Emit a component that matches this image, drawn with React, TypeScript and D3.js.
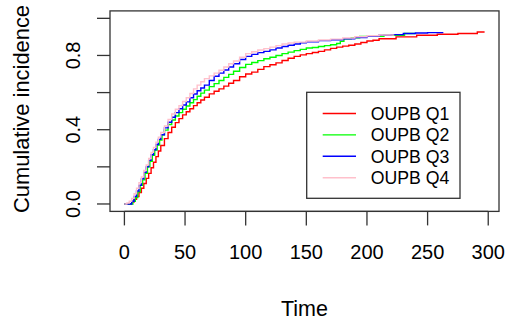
import React from "react";
import * as d3 from "d3";

const seriesNames = ["OUPB Q1", "OUPB Q2", "OUPB Q3", "OUPB Q4"];
const seriesColors = ["#FF0000", "#00FF00", "#0000FF", "#FFC0CB"];

const q1Time = [0, 4, 6, 8, 10, 12, 14, 16, 18, 20, 22, 24, 26, 28, 30, 33, 36, 39, 42, 45, 48, 51, 54, 57, 60, 63, 66, 70, 74, 78, 82, 86, 90, 95, 100, 105, 110, 115, 120, 125, 130, 135, 140, 145, 150, 155, 160, 165, 170, 175, 180, 185, 190, 195, 200, 205, 210, 224, 241, 258, 275, 291, 297];
const q1Value = [0, 0, 0.01, 0.025, 0.04, 0.062, 0.085, 0.11, 0.138, 0.165, 0.195, 0.225, 0.255, 0.285, 0.315, 0.352, 0.385, 0.413, 0.438, 0.46, 0.48, 0.497, 0.513, 0.53, 0.545, 0.56, 0.575, 0.593, 0.607, 0.62, 0.635, 0.65, 0.665, 0.685, 0.7, 0.71, 0.725, 0.74, 0.75, 0.76, 0.773, 0.785, 0.795, 0.803, 0.81, 0.816, 0.822, 0.83, 0.838, 0.845, 0.85, 0.855, 0.862, 0.87, 0.878, 0.882, 0.89, 0.9, 0.909, 0.914, 0.918, 0.926, 0.926];

const q2Time = [0, 5, 7, 9, 11, 13, 15, 17, 19, 21, 23, 25, 27, 29, 31, 33, 36, 39, 42, 45, 48, 51, 54, 57, 60, 63, 66, 70, 74, 78, 82, 86, 90, 95, 100, 105, 110, 115, 120, 125, 130, 135, 140, 145, 150, 155, 160, 165, 170, 175, 178, 181, 187, 194, 214, 231, 240];
const q2Value = [0, 0, 0.015, 0.035, 0.066, 0.1, 0.13, 0.165, 0.2, 0.23, 0.262, 0.29, 0.317, 0.345, 0.372, 0.398, 0.428, 0.452, 0.474, 0.492, 0.51, 0.528, 0.545, 0.562, 0.58, 0.597, 0.613, 0.632, 0.648, 0.665, 0.682, 0.698, 0.715, 0.735, 0.752, 0.762, 0.772, 0.782, 0.79, 0.8, 0.81, 0.818, 0.826, 0.833, 0.84, 0.843, 0.848, 0.853, 0.858, 0.864, 0.876, 0.89, 0.895, 0.903, 0.909, 0.918, 0.918];

const q3Time = [0, 4, 6, 8, 10, 12, 14, 16, 18, 20, 22, 24, 26, 28, 30, 33, 36, 39, 42, 45, 48, 51, 54, 57, 60, 63, 66, 70, 74, 78, 82, 86, 90, 95, 100, 105, 110, 115, 120, 125, 130, 135, 140, 145, 150, 160, 170, 180, 190, 200, 210, 220, 230, 240, 250, 263];
const q3Value = [0, 0, 0.015, 0.04, 0.07, 0.1, 0.135, 0.17, 0.2, 0.235, 0.265, 0.292, 0.32, 0.348, 0.373, 0.41, 0.44, 0.467, 0.492, 0.513, 0.533, 0.55, 0.572, 0.592, 0.61, 0.625, 0.64, 0.665, 0.688, 0.705, 0.722, 0.738, 0.755, 0.778, 0.795, 0.806, 0.815, 0.822, 0.83, 0.84, 0.848, 0.855, 0.862, 0.868, 0.873, 0.88, 0.885, 0.89, 0.896, 0.903, 0.909, 0.912, 0.918, 0.921, 0.923, 0.923];

const q4Time = [0, 2, 4, 6, 8, 10, 12, 14, 16, 18, 20, 22, 24, 26, 28, 30, 33, 36, 39, 42, 45, 48, 51, 54, 57, 60, 63, 66, 70, 74, 78, 82, 86, 90, 95, 100, 105, 110, 115, 120, 125, 130, 135, 140, 150, 160, 170, 180, 190, 200, 210, 222];
const q4Value = [0, 0.005, 0.015, 0.03, 0.055, 0.085, 0.115, 0.145, 0.18, 0.21, 0.245, 0.278, 0.305, 0.333, 0.36, 0.385, 0.42, 0.455, 0.485, 0.51, 0.53, 0.552, 0.572, 0.595, 0.62, 0.64, 0.658, 0.675, 0.69, 0.705, 0.72, 0.738, 0.755, 0.77, 0.79, 0.81, 0.82, 0.829, 0.837, 0.845, 0.853, 0.862, 0.867, 0.872, 0.878, 0.883, 0.888, 0.894, 0.901, 0.906, 0.91, 0.913];

const seriesTimes = [q1Time, q2Time, q3Time, q4Time];
const seriesValues = [q1Value, q2Value, q3Value, q4Value];

const xTicks = [0, 50, 100, 150, 200, 250, 300];
const yTicks = [0, 0.2, 0.4, 0.6, 0.8, 1.0];
const yTickLabels = ["0.0", "", "0.4", "", "0.8", ""];
const xTitle = "Time";
const yTitle = "Cumulative incidence";

const maxTime = 297;

export default function App() {
  const W = 506;
  const H = 323;
  const left = 110, right = 499, top = 10.9, bottom = 211.4;
  const x = d3.scaleLinear().domain([-0.04 * maxTime, 1.04 * maxTime]).range([left, right]);
  const y = d3.scaleLinear().domain([-0.04, 1.04]).range([bottom, top]);
  const font = "'Liberation Sans', Arial, Helvetica, sans-serif";

  const line = d3
    .line<[number, number]>()
    .x((d) => x(d[0]))
    .y((d) => y(d[1]))
    .curve(d3.curveStepAfter);

  const legendX0 = 306.7, legendY0 = 92.3, legendW = 153.3, legendH = 106;
  const legendRowY = (i: number) => 113.5 + i * 21.4;

  return (
    <div style={{ position: "fixed", left: 0, top: 0 }}>
      <svg width={W} height={H} style={{ display: "block", background: "#fff" }}>
        <rect x={0} y={0} width={W} height={H} fill="#fff" />
        {seriesTimes.map((ts, i) => (
          <path
            key={i}
            d={line(ts.map((t, j) => [t, seriesValues[i][j]] as [number, number])) || ""}
            fill="none"
            stroke={seriesColors[i]}
            strokeWidth={1.4}
          />
        ))}
        <rect x={left} y={top} width={right - left} height={bottom - top} fill="none" stroke="#333" strokeWidth={1.3} />
        {/* x axis */}
        <line x1={x(xTicks[0])} x2={x(xTicks[xTicks.length - 1])} y1={bottom} y2={bottom} stroke="#333" strokeWidth={1.3} />
        {xTicks.map((t) => (
          <g key={t}>
            <line x1={x(t)} x2={x(t)} y1={bottom} y2={bottom + 14} stroke="#333" strokeWidth={1.3} />
            <text x={x(t)} y={259} textAnchor="middle" fontFamily={font} fontSize={20} fill="#000">
              {t}
            </text>
          </g>
        ))}
        {/* y axis */}
        {yTicks.map((t, i) => (
          <g key={t}>
            <line x1={left} x2={left - 13} y1={y(t)} y2={y(t)} stroke="#333" strokeWidth={1.3} />
            {yTickLabels[i] && (
              <text
                transform={`translate(80,${y(t)}) rotate(-90)`}
                textAnchor="middle"
                fontFamily={font}
                fontSize={20}
                fill="#000"
              >
                {yTickLabels[i]}
              </text>
            )}
          </g>
        ))}
        <text x={(left + right) / 2} y={316} textAnchor="middle" fontFamily={font} fontSize={21.5} fill="#000">
          {xTitle}
        </text>
        <text
          transform={`translate(29,109) rotate(-90)`}
          textAnchor="middle"
          fontFamily={font}
          fontSize={21.9}
          fill="#000"
        >
          {yTitle}
        </text>
        {/* legend */}
        <rect x={legendX0} y={legendY0} width={legendW} height={legendH} fill="#fff" stroke="#333" strokeWidth={1.3} />
        {seriesNames.map((n, i) => (
          <g key={n}>
            <line x1={322.7} x2={356} y1={legendRowY(i)} y2={legendRowY(i)} stroke={seriesColors[i]} strokeWidth={1.4} />
            <text x={370.7} y={legendRowY(i) + 6.3} fontFamily={font} fontSize={17.7} fill="#000">
              {n}
            </text>
          </g>
        ))}
      </svg>
    </div>
  );
}
